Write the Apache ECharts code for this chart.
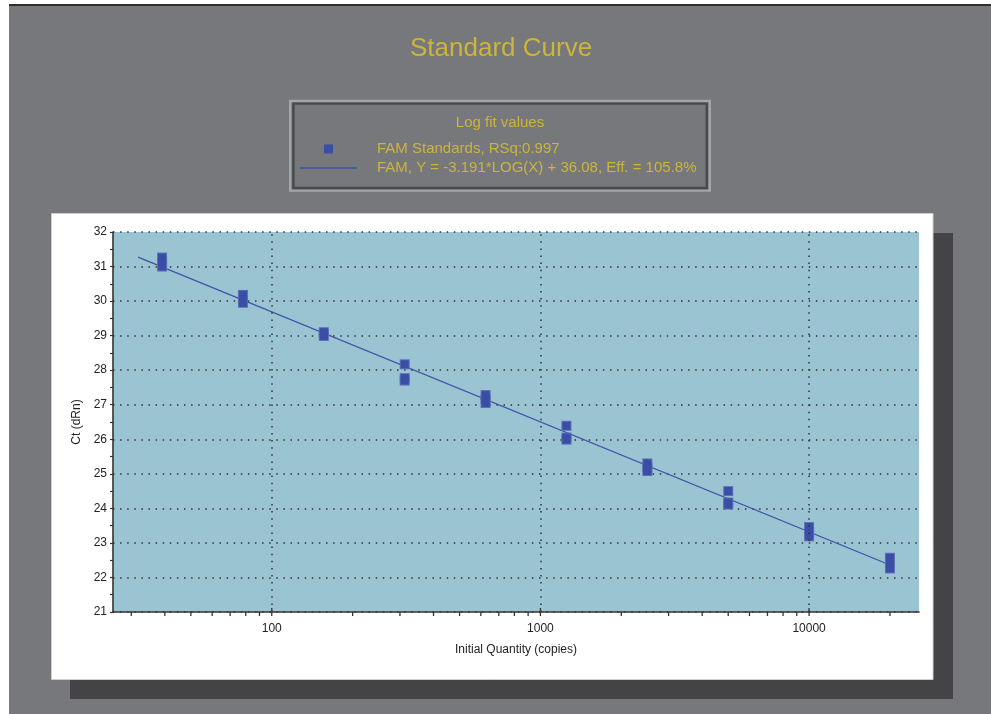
<!DOCTYPE html>
<html>
<head>
<meta charset="utf-8">
<script src="https://cdn.jsdelivr.net/npm/echarts@6/dist/echarts.min.js"></script>
<style>
  html, body { margin: 0; padding: 0; background: #ffffff; }
  #chart { width: 991px; height: 714px; }
</style>
</head>
<body>
<div id="chart"></div>
<script>
// ---- data ----
const quantities = [39.0625, 78.125, 156.25, 312.5, 625, 1250, 2500, 5000, 10000, 20000];
const ctRepA = [31.26, 30.18, 29.10, 28.17, 27.28, 26.39, 25.30, 24.50, 23.46, 22.57];
const ctRepB = [31.00, 29.95, 28.99, 27.77, 27.05, 26.05, 25.08, 24.17, 23.19, 22.26];
const ctRepC = [31.12, 30.06, 29.04, 27.70, 27.16, 25.99, 25.18, 24.11, 23.32, 22.41];
const fitQuantities = [31.8, 20000];
const fitCt = [31.27, 22.36];
const xMajorTicks = [100, 1000, 10000];
const xMinorTicks = [30, 40, 50, 60, 70, 80, 90, 200, 300, 400, 500, 600, 700, 800, 900,
                     2000, 3000, 4000, 5000, 6000, 7000, 8000, 9000, 20000];
const xRange = [25.65, 25650];
const yRange = [21, 32];
const chartTitle = 'Standard Curve';
const legendTitle = 'Log fit values';
const stdName = 'FAM Standards, RSq:0.997';
const fitName = 'FAM, Y = -3.191*LOG(X) + 36.08, Eff. = 105.8%';
const xName = 'Initial Quantity (copies)';
const yName = 'Ct (dRn)';

// ---- styling ----
const FONT = '"Liberation Sans", Arial, sans-serif';
const GRAY = '#77787c';
const YELLOW = '#cdb43a';
const BLUE = '#3a4ea5';
const EDGE = '#5d6fb9';
const PLOT_BG = '#9bc4d2';
const INK = '#222222';

const stdData = [];
[ctRepA, ctRepB, ctRepC].forEach(rep => {
  quantities.forEach((q, i) => stdData.push([q, rep[i]]));
});
const fitData = fitQuantities.map((q, i) => [q, fitCt[i]]);
const tickData = xMajorTicks.map(v => [v, yRange[0], 1])
  .concat(xMinorTicks.map(v => [v, yRange[0], 0]));

const chart = echarts.init(document.getElementById('chart'), null, { renderer: 'canvas' });

chart.setOption({
  animation: false,
  backgroundColor: '#ffffff',
  graphic: {
    elements: [
      { type: 'rect', z: -20, shape: { x: 9, y: 5, width: 982, height: 709 }, style: { fill: GRAY } },
      { type: 'rect', z: -19, shape: { x: 9, y: 4, width: 982, height: 2 }, style: { fill: '#2e2e30' } },
      // legend frame (groove)
      { type: 'rect', z: -18, shape: { x: 290.2, y: 101, width: 419.6, height: 89.6 },
        style: { fill: 'none', stroke: '#a4a5a8', lineWidth: 2.4 } },
      { type: 'rect', z: -17, shape: { x: 293.4, y: 103.6, width: 413.4, height: 84.4 },
        style: { fill: 'none', stroke: '#48494c', lineWidth: 2.4 } },
      // drop shadow of chart panel
      { type: 'rect', z: -16, shape: { x: 70, y: 233, width: 883, height: 466 }, style: { fill: '#444447' } },
      // white chart panel
      { type: 'rect', z: -15, shape: { x: 51.5, y: 213.5, width: 881.5, height: 466 },
        style: { fill: '#ffffff', stroke: '#cfcfcf', lineWidth: 1 } },
      { type: 'text', z: 10, style: { text: legendTitle, x: 500, y: 123, textAlign: 'center',
        textVerticalAlign: 'middle', fill: YELLOW, font: '15px ' + FONT } }
    ]
  },
  title: {
    text: chartTitle,
    left: 410,
    top: 36,
    padding: 0,
    textStyle: { color: YELLOW, fontSize: 26, fontWeight: 'normal', fontFamily: FONT }
  },
  legend: {
    left: 300,
    top: 141,
    orient: 'vertical',
    itemWidth: 57,
    itemHeight: 9,
    itemGap: 3,
    padding: 0,
    selectedMode: false,
    data: [
      { name: stdName, icon: 'path://M0,0h10v10h-10z' },
      { name: fitName, icon: 'path://M0,0h60v1.4h-60z' }
    ],
    textStyle: { color: YELLOW, fontSize: 15, fontFamily: FONT, lineHeight: 16, padding: [0, 0, 0, 15] }
  },
  grid: {
    left: 113, top: 232, right: 72, bottom: 102,
    show: true, backgroundColor: PLOT_BG, borderWidth: 0
  },
  xAxis: {
    type: 'log',
    logBase: 10,
    min: xRange[0],
    max: xRange[1],
    name: xName,
    nameLocation: 'middle',
    nameGap: 32,
    nameTextStyle: { color: INK, fontSize: 12, fontFamily: FONT },
    axisLine: { show: true, lineStyle: { color: '#333', width: 1.6 } },
    axisTick: { show: false },
    splitLine: { show: false },
    axisLabel: {
      color: INK, fontSize: 12, fontFamily: FONT, margin: 11,
      showMinLabel: false, showMaxLabel: false,
      formatter: v => String(Math.round(v))
    }
  },
  yAxis: {
    type: 'value',
    min: yRange[0],
    max: yRange[1],
    interval: 1,
    name: yName,
    nameLocation: 'middle',
    nameGap: 30,
    nameTextStyle: { color: INK, fontSize: 12, fontFamily: FONT },
    axisLine: { show: true, lineStyle: { color: '#333', width: 1.6 } },
    axisTick: { show: true, length: 3, lineStyle: { color: '#333', width: 1.2 } },
    minorTick: { show: true, splitNumber: 2, length: 3, lineStyle: { color: '#333', width: 1.2 } },
    axisLabel: { color: INK, fontSize: 12, fontFamily: FONT, margin: 6 },
    splitLine: { show: true, lineStyle: { color: '#333', width: 1.5, type: [1.5, 5.6] } }
  },
  series: [
    {
      name: fitName,
      type: 'line',
      data: fitData,
      symbol: 'none',
      z: 2,
      lineStyle: { color: '#3f53a8', width: 1.3 },
      itemStyle: { color: '#3f53a8' }
    },
    {
      name: 'std-edge',
      type: 'scatter',
      data: stdData,
      symbol: 'rect',
      symbolSize: 10,
      z: 3,
      silent: true,
      itemStyle: { color: EDGE, opacity: 1 }
    },
    {
      name: stdName,
      type: 'scatter',
      data: stdData,
      symbol: 'rect',
      symbolSize: 8,
      z: 4,
      itemStyle: { color: BLUE, opacity: 1 },
      markLine: {
        silent: true,
        symbol: 'none',
        label: { show: false },
        lineStyle: { color: '#333', width: 1.5, type: [1.5, 5.6] },
        data: xMajorTicks.map(v => ({ xAxis: v }))
      }
    },
    {
      name: 'xticks',
      type: 'custom',
      silent: true,
      z: 5,
      data: tickData,
      renderItem: (params, api) => {
        const p = api.coord([api.value(0), api.value(1)]);
        const major = api.value(2) === 1;
        return {
          type: 'line',
          shape: { x1: p[0], y1: p[1] - (major ? 4 : 0), x2: p[0], y2: p[1] + 4 },
          style: { stroke: '#333', lineWidth: 1.3 }
        };
      }
    }
  ]
});
</script>
</body>
</html>
